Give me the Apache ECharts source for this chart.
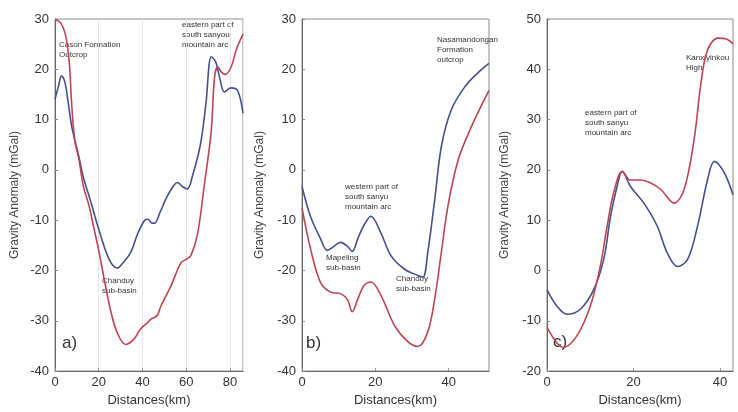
<!DOCTYPE html>
<html lang="en">
<head>
    <meta charset="UTF-8">
    <title>Gravity anomaly profiles</title>
    <script src="https://cdn.jsdelivr.net/npm/echarts@6/dist/echarts.min.js"></script>
    <style>
        html, body { margin: 0; padding: 0; background: #fff; }
        #chart { width: 738px; height: 412px; }
    </style>
</head>
<body>
<div id="chart"></div>
<script>
    // panel a)
    var aBlueX = [0, 1.5, 3, 4.5, 6, 7.5, 9, 11, 13, 16, 20.5, 25, 28.5, 31, 34.5, 38, 41, 42.5, 44, 45.5, 48, 51, 54.5, 56, 58, 60.5, 63, 66.5, 69, 71.5, 73.5, 75.5, 77.5, 80.5, 83.5, 86]
    var aBlue = [14, 16.5, 18.7, 17.5, 13.5, 9, 6, 2.5, -1.5, -5.8, -12.5, -18, -19.5, -18.5, -16.5, -12.5, -10, -9.8, -10.5, -10.6, -8.5, -5.5, -3, -2.5, -3.2, -3.8, -1, 5, 13, 22.5, 21.5, 18, 15.5, 16.3, 15.8, 11.3]
    var aRedX = [0, 2, 3.5, 5, 6, 6.8, 7.5, 9, 11, 13, 15.5, 17.6, 20, 22.2, 25.3, 28.4, 32.3, 36, 39, 42.2, 44, 45.3, 47, 48.4, 53, 57.6, 60, 62.2, 65.3, 68.2, 71.4, 73, 74.5, 76, 78, 80.6, 83, 86]
    var aRed = [29.8, 29.5, 28.5, 26.5, 23.5, 20, 14, 6, 2, -3.3, -7, -11.2, -16, -21, -27.7, -32.3, -34.7, -33.7, -31.7, -30.4, -29.6, -29.4, -28.8, -27.1, -23.1, -18.5, -17.8, -17, -12.5, -3.3, 7.4, 18.5, 20.5, 19.5, 19, 20.5, 24, 27]

    // panel b)
    var bBlueX = [0, 2.3, 5, 6.9, 8.7, 10.5, 12.4, 13.7, 15.3, 16.9, 18.8, 21.5, 24.3, 27.9, 31.6, 33, 34.3, 36.2, 38, 40.7, 44.4, 48.1, 51]
    var bBlue = [-3.3, -9.2, -13.6, -16, -15.2, -14.4, -15.2, -16.2, -13.5, -11, -9.2, -12.5, -17.1, -19.7, -21, -21.3, -16.4, -5.9, 4.6, 11.9, 16.5, 19.4, 21.2]
    var bRedX = [0, 2.3, 5, 7.8, 10.5, 12.4, 13.7, 15.3, 16.9, 18.8, 21.5, 25.2, 28.8, 31.6, 34.3, 36.2, 38, 39.8, 42.6, 46.2, 51]
    var bRed = [-7.5, -15.6, -22.3, -24.3, -24.6, -25.8, -28.2, -25.5, -23, -22.3, -24.9, -30.9, -34.1, -35.1, -32.2, -25.6, -16.4, -7.2, 2, 8.6, 15.8]

    // panel c)
    var cBlueX = [0, 2.3, 4.6, 7.7, 10.8, 13.1, 14.7, 16.2, 17.4, 19.3, 22.4, 25.5, 27.8, 30.2, 32.5, 34.8, 37.1, 38.7, 41, 43]
    var cBlue = [-3.8, -7.1, -8.7, -7.7, -3.8, 2.2, 10.8, 16.7, 19.7, 16.7, 13.4, 8.8, 3.5, 0.8, 2.2, 8.8, 18, 21.7, 19.4, 15]
    var cRedX = [0, 2.3, 3.8, 6.9, 10, 12.3, 13.9, 15.4, 17.4, 19.3, 21.6, 24, 26.3, 29.4, 31.7, 34, 35.6, 37.1, 39.5, 41.5, 43]
    var cRed = [-11.3, -14.4, -15.3, -13, -7.1, 0.8, 8.8, 15.4, 19.7, 18, 18, 17.4, 16.1, 13.4, 16.1, 26, 37.3, 43.8, 46.2, 46, 45]

    var xMax = [86, 51, 43]
    var yMin = [-40, -40, -20]
    var yMax = [30, 30, 50]

    var blueColor = '#45508c'
    var redColor = '#bd4452'
    var font = 'Liberation Sans, Arial, sans-serif'

    function pairs (xs, ys) {
        return xs.map((x, i) => [x, ys[i]])
    }

    var grids = [
        {left: 55, top: 19, width: 188, height: 354},
        {left: 302, top: 19, width: 187, height: 354},
        {left: 547, top: 19, width: 186, height: 354}
    ]

    var xAxes = [], yAxes = []
    grids.forEach((g, i) => {
        g.show = true
        g.borderColor = '#8a8a8a'
        g.borderWidth = 1
        xAxes.push({
            type: 'value', gridIndex: i, min: 0, max: xMax[i], interval: 20,
            name: 'Distances(km)', nameLocation: 'middle', nameGap: 20,
            nameTextStyle: {fontFamily: font, fontSize: 13, color: '#333'},
            axisLine: {onZero: false, lineStyle: {color: '#666'}},
            axisTick: {inside: true, length: 3, lineStyle: {color: '#888'}},
            axisLabel: {fontFamily: font, fontSize: 13, color: '#333', margin: 5, showMaxLabel: false,
                formatter: v => (v % 20 === 0 ? v : '')},
            splitLine: {show: i === 0, lineStyle: {color: '#e6e6e6'}}
        })
        yAxes.push({
            type: 'value', gridIndex: i, min: yMin[i], max: yMax[i], interval: 10,
            name: 'Gravity Anomaly (mGal)', nameLocation: 'middle', nameGap: i === 0 ? 34 : 36,
            nameTextStyle: {fontFamily: font, fontSize: 12, color: '#444'},
            axisLine: {onZero: false, lineStyle: {color: '#666'}},
            axisTick: {inside: true, length: 3, lineStyle: {color: '#888'}},
            axisLabel: {fontFamily: font, fontSize: 13, color: '#333', margin: 6},
            splitLine: {show: false}
        })
    })

    function line (xi, data, color) {
        return {
            type: 'line', xAxisIndex: xi, yAxisIndex: xi, data: data,
            smooth: 0.35, showSymbol: false, symbol: 'none',
            lineStyle: {color: color, width: 1.6}
        }
    }

    function note (x, y, text, size) {
        return {
            type: 'text', left: x, top: y,
            style: {text: text, fontFamily: font, fontSize: size || 8, lineHeight: (size || 8) + 2, fill: '#333'}
        }
    }

    var chart = echarts.init(document.getElementById('chart'))
    chart.setOption({
        animation: false,
        grid: grids,
        xAxis: xAxes,
        yAxis: yAxes,
        series: [
            line(0, pairs(aBlueX, aBlue), blueColor),
            line(0, pairs(aRedX, aRed), redColor),
            line(1, pairs(bBlueX, bBlue), blueColor),
            line(1, pairs(bRedX, bRed), redColor),
            line(2, pairs(cBlueX, cBlue), blueColor),
            line(2, pairs(cRedX, cRed), redColor)
        ],
        graphic: [
            note(59, 40, 'Cason Formation\nOutcrop'),
            note(182, 20, 'eastern part of\nsouth sanyou\nmountain arc'),
            note(102, 276, 'Chanduy\nsub-basin'),
            note(62, 334, 'a)', 17),
            note(437, 35, 'Nasamandongan\nFormation\noutcrop'),
            note(345, 182, 'western part of\nsouth sanyu\nmountain arc'),
            note(326, 253, 'Mapeling\nsub-basin'),
            note(396, 274, 'Chanduy\nsub-basin'),
            note(306, 334, 'b)', 17),
            note(585, 108, 'eastern part of\nsouth sanyu\nmountain arc'),
            note(686, 53, 'Kanxiyinkou\nHigh'),
            note(553, 333, 'c)', 17)
        ]
    })
</script>
</body>
</html>
